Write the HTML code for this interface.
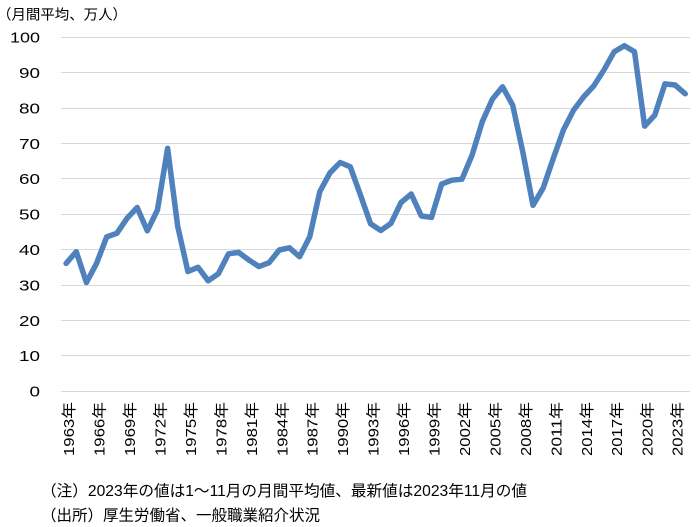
<!DOCTYPE html>
<html>
<head>
<meta charset="utf-8">
<style>
  html,body{margin:0;padding:0;background:#fff;}
  svg{display:block;}
  text{font-family:"Liberation Sans","Noto Sans CJK JP",sans-serif;fill:#000;}
</style>
</head>
<body>
<svg width="698" height="527" viewBox="0 0 698 527" xmlns="http://www.w3.org/2000/svg">
  <rect x="0" y="0" width="698" height="527" fill="#fff"/>
  <!-- title -->
  <text x="-3" y="19.5" font-size="14.4" textLength="130" lengthAdjust="spacingAndGlyphs">（月間平均、万人）</text>

  <!-- gridlines -->
  <g stroke="#d9d9d9" stroke-width="1">
    <line x1="61" x2="690" y1="37.5" y2="37.5"/>
    <line x1="61" x2="690" y1="72.5" y2="72.5"/>
    <line x1="61" x2="690" y1="108.5" y2="108.5"/>
    <line x1="61" x2="690" y1="143.5" y2="143.5"/>
    <line x1="61" x2="690" y1="178.5" y2="178.5"/>
    <line x1="61" x2="690" y1="214.5" y2="214.5"/>
    <line x1="61" x2="690" y1="249.5" y2="249.5"/>
    <line x1="61" x2="690" y1="285.5" y2="285.5"/>
    <line x1="61" x2="690" y1="320.5" y2="320.5"/>
    <line x1="61" x2="690" y1="355.5" y2="355.5"/>
    <line x1="61" x2="690" y1="391.5" y2="391.5"/>
  </g>

  <!-- y labels -->
  <g font-size="15" text-anchor="end" lengthAdjust="spacingAndGlyphs">
    <text x="40" y="42.6" textLength="30" lengthAdjust="spacingAndGlyphs">100</text>
    <text x="40" y="78" textLength="21" lengthAdjust="spacingAndGlyphs">90</text>
    <text x="40" y="113.4" textLength="21" lengthAdjust="spacingAndGlyphs">80</text>
    <text x="40" y="148.8" textLength="21" lengthAdjust="spacingAndGlyphs">70</text>
    <text x="40" y="184.2" textLength="21" lengthAdjust="spacingAndGlyphs">60</text>
    <text x="40" y="219.6" textLength="21" lengthAdjust="spacingAndGlyphs">50</text>
    <text x="40" y="255" textLength="21" lengthAdjust="spacingAndGlyphs">40</text>
    <text x="40" y="290.4" textLength="21" lengthAdjust="spacingAndGlyphs">30</text>
    <text x="40" y="325.8" textLength="21" lengthAdjust="spacingAndGlyphs">20</text>
    <text x="40" y="361.2" textLength="21" lengthAdjust="spacingAndGlyphs">10</text>
    <text x="40" y="396.6" textLength="10.5" lengthAdjust="spacingAndGlyphs">0</text>
  </g>

  <!-- series -->
  <polyline fill="none" stroke="#4f81bd" stroke-width="5.5" stroke-linejoin="round" stroke-linecap="round"
    points="66.1,263.4 76.25,251.7 86.4,282.5 96.55,263.4 106.7,236.9 116.85,233.3 127,218.4 137.15,207.5 147.3,230.8 157.45,210 167.6,148.4 177.75,226.6 187.9,271.5 198.05,267.3 208.2,280.8 218.35,273.7 228.5,253.8 238.65,252.4 248.8,259.9 258.95,266.6 269.1,262.7 279.25,250 289.4,247.8 299.55,256.7 309.7,236.9 319.85,191.5 330,172.8 340.15,162.5 350.3,166.8 360.45,195.1 370.6,223.8 380.75,230.5 390.9,223.4 401.05,202.5 411.2,194 421.35,216 431.5,217.4 441.65,184.1 451.8,180.2 461.95,179.2 472.1,155.1 482.25,121.8 492.4,99.1 502.55,86.8 512.7,105.2 522.85,152.2 533,205.3 543.15,188 553.3,158.3 563.45,129.9 573.6,110.1 583.75,96.7 593.9,85.7 604.05,69.8 614.2,51.7 624.35,45.7 634.5,51.7 644.65,126.1 654.8,115.1 664.95,83.9 675.1,85 685.25,93.8"/>

  <!-- x labels -->
  <g font-size="15" text-anchor="end" dominant-baseline="central">
    <text transform="translate(69.6,402) rotate(-90)" textLength="54" lengthAdjust="spacingAndGlyphs">1963年</text>
    <text transform="translate(100.05,402) rotate(-90)" textLength="54" lengthAdjust="spacingAndGlyphs">1966年</text>
    <text transform="translate(130.5,402) rotate(-90)" textLength="54" lengthAdjust="spacingAndGlyphs">1969年</text>
    <text transform="translate(160.95,402) rotate(-90)" textLength="54" lengthAdjust="spacingAndGlyphs">1972年</text>
    <text transform="translate(191.4,402) rotate(-90)" textLength="54" lengthAdjust="spacingAndGlyphs">1975年</text>
    <text transform="translate(221.85,402) rotate(-90)" textLength="54" lengthAdjust="spacingAndGlyphs">1978年</text>
    <text transform="translate(252.3,402) rotate(-90)" textLength="54" lengthAdjust="spacingAndGlyphs">1981年</text>
    <text transform="translate(282.75,402) rotate(-90)" textLength="54" lengthAdjust="spacingAndGlyphs">1984年</text>
    <text transform="translate(313.2,402) rotate(-90)" textLength="54" lengthAdjust="spacingAndGlyphs">1987年</text>
    <text transform="translate(343.65,402) rotate(-90)" textLength="54" lengthAdjust="spacingAndGlyphs">1990年</text>
    <text transform="translate(374.1,402) rotate(-90)" textLength="54" lengthAdjust="spacingAndGlyphs">1993年</text>
    <text transform="translate(404.55,402) rotate(-90)" textLength="54" lengthAdjust="spacingAndGlyphs">1996年</text>
    <text transform="translate(435,402) rotate(-90)" textLength="54" lengthAdjust="spacingAndGlyphs">1999年</text>
    <text transform="translate(465.45,402) rotate(-90)" textLength="54" lengthAdjust="spacingAndGlyphs">2002年</text>
    <text transform="translate(495.9,402) rotate(-90)" textLength="54" lengthAdjust="spacingAndGlyphs">2005年</text>
    <text transform="translate(526.35,402) rotate(-90)" textLength="54" lengthAdjust="spacingAndGlyphs">2008年</text>
    <text transform="translate(556.8,402) rotate(-90)" textLength="54" lengthAdjust="spacingAndGlyphs">2011年</text>
    <text transform="translate(587.25,402) rotate(-90)" textLength="54" lengthAdjust="spacingAndGlyphs">2014年</text>
    <text transform="translate(617.7,402) rotate(-90)" textLength="54" lengthAdjust="spacingAndGlyphs">2017年</text>
    <text transform="translate(648.15,402) rotate(-90)" textLength="54" lengthAdjust="spacingAndGlyphs">2020年</text>
    <text transform="translate(678.2,402) rotate(-90)" textLength="54" lengthAdjust="spacingAndGlyphs">2023年</text>
  </g>

  <!-- notes -->
  <text x="41" y="495.8" font-size="15.5" textLength="486" lengthAdjust="spacingAndGlyphs">（注）2023年の値は1～11月の月間平均値、最新値は2023年11月の値</text>
  <text x="41" y="520.3" font-size="15.5" textLength="279" lengthAdjust="spacingAndGlyphs">（出所）厚生労働省、一般職業紹介状況</text>
</svg>
</body>
</html>
